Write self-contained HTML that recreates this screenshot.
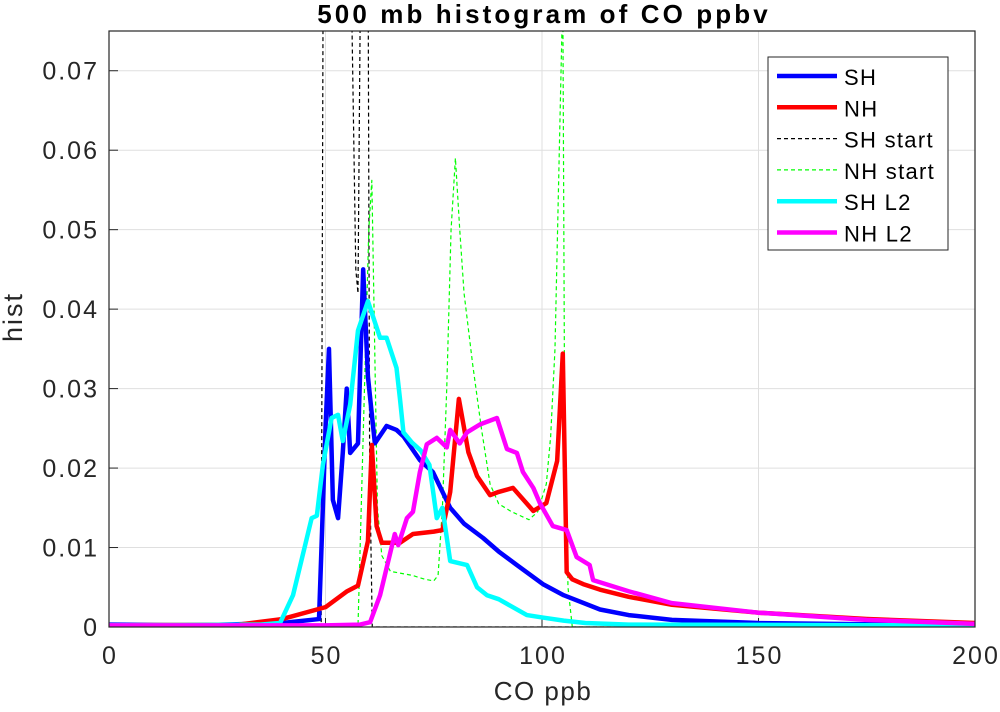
<!DOCTYPE html>
<html><head><meta charset="utf-8"><style>
body{margin:0;background:#fff}
svg text{font-family:"Liberation Sans",sans-serif}
</style></head><body>
<svg id="chart" width="1000" height="707" viewBox="0 0 1000 707">
<rect x="0" y="0" width="1000" height="707" fill="#fff"/>
<g id="grid"></g>
<g id="axes"></g>
<clipPath id="clip"><rect x="109" y="31" width="866" height="596"/></clipPath>
<g id="series" clip-path="url(#clip)"></g>
<rect x="109" y="31" width="866" height="596" fill="none" stroke="#262626" stroke-width="1.2"/>
<text x="544" y="23" text-anchor="middle" font-size="26" font-weight="bold" letter-spacing="3.1">500 mb histogram of CO ppbv</text>
<text x="543" y="700" text-anchor="middle" font-size="26" letter-spacing="1.5" fill="#262626">CO ppb</text>
<text x="22" y="317" text-anchor="middle" font-size="27" letter-spacing="2" fill="#262626" transform="rotate(-90 22 317)">hist</text>
<g id="legend"></g>
</svg>
<script>
const xTicks=[0,50,100,150,200];
const yTicks=[0,0.01,0.02,0.03,0.04,0.05,0.06,0.07];
const yTickLabels=["0","0.01","0.02","0.03","0.04","0.05","0.06","0.07"];
const seriesNames=["SH","NH","SH start","NH start","SH L2","NH L2"];
const shX=[0,20,40,48.5,49.2,50,50.8,51.7,52.9,54,54.9,55.7,57.5,58.7,59.8,61.4,64.1,66.4,68,71.8,74.8,78.8,82,86.4,90,94.2,100.2,105,113.4,120,130,150,200];
const shY=[0.0003,0.0002,0.0005,0.001,0.012,0.025,0.035,0.016,0.0137,0.022,0.030,0.0219,0.0231,0.045,0.0315,0.0231,0.0253,0.0248,0.024,0.021,0.0195,0.015,0.013,0.0112,0.0095,0.0078,0.0054,0.004,0.0022,0.0015,0.0009,0.0005,0.0002];
const nhX=[0,30,40,50,55,57.5,59.8,60.7,61.8,63,67.2,70.2,75,77,78.8,80.8,83,85,88,90,93.3,98,101,103.5,104.8,105.7,107,109.5,113.4,120,130,150,175,200];
const nhY=[0.0002,0.0003,0.001,0.0025,0.0045,0.0052,0.0108,0.0229,0.0127,0.0106,0.0106,0.0117,0.012,0.0122,0.017,0.0287,0.022,0.019,0.0166,0.017,0.0175,0.0146,0.0156,0.0209,0.0344,0.0069,0.006,0.0054,0.0047,0.0038,0.0028,0.0018,0.001,0.0005];
const shStartX=[0,49,49.5,55.7,57,57.5,58.2,59.8,60.2,60.8,200];
const shStartY=[0,0,0.09,0.09,0.045,0.042,0.09,0.09,0.02,0,0];
const nhStartX=[0,57.5,58,59,60,60.7,62,63,65,70,73,75,76,77,78,79,80,81,82,84,86,88,90,93,97,99,101,102,103,104,104.8,105.2,106,107,200];
const nhStartY=[0,0,0.01,0.03,0.05,0.0562,0.015,0.009,0.007,0.0065,0.006,0.0058,0.0065,0.015,0.03,0.05,0.059,0.05,0.042,0.033,0.025,0.018,0.0155,0.0145,0.0135,0.0145,0.018,0.024,0.035,0.06,0.08,0.03,0.005,0,0];
const shL2X=[0,35,39.5,42.5,45.3,46.8,48,49.4,51.4,52.9,54,55.7,57.5,59.8,62.6,64.1,66.4,67.2,68,70,72,74,75.7,77,78.8,82.7,85,87.3,90,96.5,100,105,110,120,200];
const shL2Y=[0.0002,0.0003,0.0005,0.004,0.0103,0.0137,0.014,0.0204,0.0263,0.0267,0.0234,0.028,0.0373,0.041,0.0364,0.0364,0.0326,0.0287,0.0245,0.0232,0.0222,0.0204,0.0137,0.015,0.0083,0.0078,0.005,0.004,0.0035,0.0015,0.0012,0.0008,0.0005,0.0003,0.0002];
const nhL2X=[0,50,58,60.3,62.6,64.1,66,66.8,68.8,70.2,71.8,73.4,75.7,78,78.8,81,82.7,85.7,89.6,91.9,94.2,95.6,98,99.5,102.5,105.7,108,111,111.8,120,130,150,175,200];
const nhL2Y=[0.0002,0.0002,0.0003,0.0006,0.004,0.0074,0.0117,0.0103,0.0137,0.0145,0.0195,0.023,0.0238,0.0226,0.0248,0.0231,0.0245,0.0255,0.0263,0.0224,0.0219,0.0195,0.0175,0.0156,0.0127,0.0122,0.0088,0.0078,0.0059,0.0045,0.003,0.0018,0.0009,0.0004];

const NS='http://www.w3.org/2000/svg';
const X=v=>109+v/200*866;
const Y=v=>627-v/0.075*596;
function mk(tag,parent){const e=document.createElementNS(NS,tag);parent.appendChild(e);return e;}
const grid=document.getElementById('grid'),axes=document.getElementById('axes');
xTicks.forEach((t,i)=>{
 if(t>0&&t<200){const l=mk('line',grid);l.setAttribute('x1',X(t));l.setAttribute('x2',X(t));l.setAttribute('y1',31);l.setAttribute('y2',627);l.setAttribute('stroke','#dfdfdf');
 
 }
 const tk=mk('line',axes);tk.setAttribute('x1',X(t));tk.setAttribute('x2',X(t));tk.setAttribute('y1',627);tk.setAttribute('y2',618);tk.setAttribute('stroke','#262626');
 
 
 const tx=mk('text',axes);tx.setAttribute('x',X(t)+1);tx.setAttribute('y',664);tx.setAttribute('text-anchor','middle');tx.setAttribute('font-size','25');tx.setAttribute('letter-spacing','2');tx.setAttribute('fill','#262626');tx.textContent=String(t);
 
 
});
yTicks.forEach((t,i)=>{
 if(t>0){const l=mk('line',grid);l.setAttribute('x1',109);l.setAttribute('x2',975);l.setAttribute('y1',Y(t));l.setAttribute('y2',Y(t));l.setAttribute('stroke','#dfdfdf');
 
 }
 const tk=mk('line',axes);tk.setAttribute('x1',109);tk.setAttribute('x2',118);tk.setAttribute('y1',Y(t));tk.setAttribute('y2',Y(t));tk.setAttribute('stroke','#262626');
 
 
 const tx=mk('text',axes);tx.setAttribute('x',99);tx.setAttribute('y',Y(t)+9);tx.setAttribute('text-anchor','end');tx.setAttribute('font-size','25');tx.setAttribute('letter-spacing','2');tx.setAttribute('fill','#262626');tx.textContent=yTickLabels[i];
 
 
});
const styles=[
 {xs:shX,ys:shY,c:'#0000ff',w:4.5,d:null,n:'sh-line'},
 {xs:nhX,ys:nhY,c:'#ff0000',w:4.5,d:null,n:'nh-line'},
 {xs:shStartX,ys:shStartY,c:'#000000',w:1.2,d:'4 3',n:'sh-start-line'},
 {xs:nhStartX,ys:nhStartY,c:'#00ff00',w:1.2,d:'4 3',n:'nh-start-line'},
 {xs:shL2X,ys:shL2Y,c:'#00ffff',w:4.5,d:null,n:'sh-l2-line'},
 {xs:nhL2X,ys:nhL2Y,c:'#ff00ff',w:4.5,d:null,n:'nh-l2-line'}];
const sg=document.getElementById('series');
[2,3,0,1,4,5].forEach(i=>{const s=styles[i];
 const p=mk('polyline',sg);
 p.setAttribute('points',s.xs.map((x,j)=>X(x)+','+Y(s.ys[j])).join(' '));
 p.setAttribute('fill','none');p.setAttribute('stroke',s.c);p.setAttribute('stroke-width',s.w);p.setAttribute('stroke-linejoin','round');
 if(s.d)p.setAttribute('stroke-dasharray',s.d);
 
 
});
const lg=document.getElementById('legend');
const box=mk('rect',lg);box.setAttribute('x',768);box.setAttribute('y',57);box.setAttribute('width',180);box.setAttribute('height',193);box.setAttribute('fill','#fff');box.setAttribute('stroke','#262626');


seriesNames.forEach((n,i)=>{const s=styles[i];const y=76+i*31.3;
 const l=mk('line',lg);l.setAttribute('x1',777);l.setAttribute('x2',837);l.setAttribute('y1',y);l.setAttribute('y2',y);l.setAttribute('stroke',s.c);l.setAttribute('stroke-width',s.w);
 if(s.d)l.setAttribute('stroke-dasharray',s.d);
 
 
 const t=mk('text',lg);t.setAttribute('x',844);t.setAttribute('y',y+9);t.setAttribute('font-size','22');t.setAttribute('letter-spacing','1.3');t.textContent=n;
 
 
});
</script>
</body></html>
